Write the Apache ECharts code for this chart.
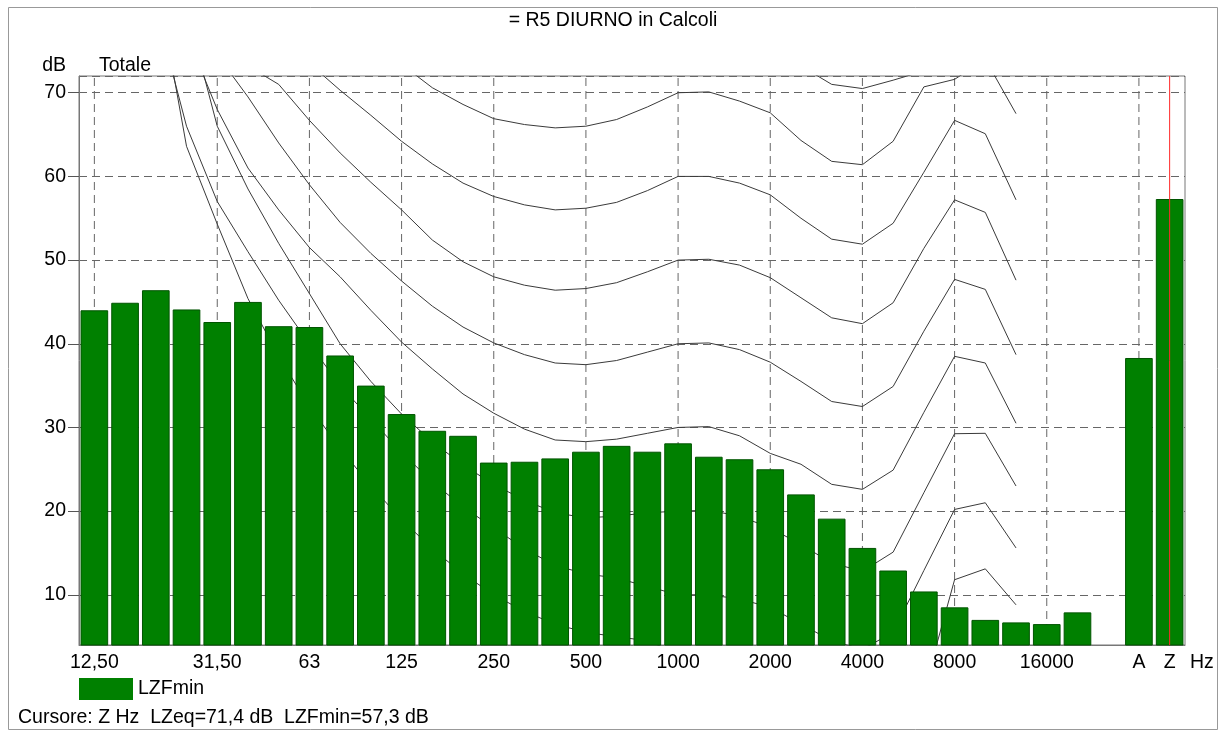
<!DOCTYPE html>
<html><head><meta charset="utf-8">
<script src="https://cdn.jsdelivr.net/npm/echarts@6/dist/echarts.min.js"></script>
<style>html,body{margin:0;padding:0;background:#fff}#c{width:1226px;height:734px}</style>
</head><body><div id="c"></div>
<script>
// 1/3-octave bands (Hz) + gap + totals A and Z
const categories = ['12,50','16','20','25','31,50','40','50','63','80','100','125','160','200','250','315','400','500','630','800','1000','1250','1600','2000','2500','3150','4000','5000','6300','8000','10000','12500','16000','20000',' ','A','Z'];
// LZFmin values (dB)
const lzfmin = [44.0,44.9,46.4,44.1,42.6,45.0,42.1,42.0,38.6,35.0,31.6,29.6,29.0,25.8,25.9,26.3,27.1,27.8,27.1,28.1,26.5,26.2,25.0,22.0,19.1,15.6,12.9,10.4,8.5,7.0,6.7,6.5,7.9,null,38.3,57.3];
// indices of shown tick labels and of vertical grid lines
const labelIdx = [0,4,7,10,13,16,19,22,25,28,31,34,35];
const vGridIdx = [0,4,7,10,13,16,19,22,25,28,31,34];
const cursorIdx = 35;
// curves (dB) from 12.5 Hz to 12500 Hz
const c0  = [null,null,84,63.6,54.3,45.4,38.5,32.5,27.5,23,19,15.5,12.5,10,8,6.5,5.5,5,4.5,3,3,2.5,1.5,-0.5,-2.5,-3.5,-3,-1.5,11.8,13.1,8.8];
const c10 = [null,null,80,66,57,51,45.2,40,35,31,27,23.5,20.5,18,15.5,13.5,12.5,12,11,10,10,9.5,8.5,6.5,4.5,3.5,5.5,12.9,20.2,21.0,15.6];
const c20 = [null,null,null,80,66,58.5,52,46,40,35.5,31.6,28.3,25.5,23.2,21.3,19.8,19.2,19.4,19.8,20.0,20.1,19.4,18.0,16.0,13.8,12.8,15.1,22.2,29.25,29.3,23.0];
const c30 = [null,null,null,77,68,61,56,51.5,48.0,44.0,40.2,37.0,34.0,31.7,29.8,28.5,28.3,28.6,29.3,30.0,30.1,29.0,26.9,25.6,23.2,22.6,24.9,31.8,38.5,37.7,30.5];
const c40 = [null,null,null,null,74.5,69.5,64.0,59.0,54.5,50.8,47.5,44.5,42.0,40.1,38.7,37.7,37.5,38.0,39.0,40.0,40.1,39.3,37.8,35.5,33.1,32.5,34.9,41.5,47.7,46.5,38.7];
const c50 = [null,null,null,null,null,73.2,71.0,66.7,62.8,59.3,56.0,52.4,49.8,48.0,47.0,46.4,46.6,47.3,48.6,50.0,50.1,49.4,47.9,45.5,43.1,42.4,44.9,51.4,57.2,55.7,47.6];
const c60 = [null,null,null,null,null,null,null,73.5,70.3,67.3,64.2,61.5,59.2,57.6,56.6,56.0,56.2,56.9,58.3,60.0,60.0,59.2,57.8,55.0,52.5,51.9,54.4,60.5,66.7,65.1,57.2];
const c70 = [null,null,null,null,null,null,null,null,null,77,73.4,70.6,68.6,66.9,66.2,65.8,66.0,66.8,68.3,70.0,70.1,69.0,67.6,64.3,61.8,61.4,64.2,70.7,71.6,74.0,67.5];
const c80 = [null,null,null,null,null,null,null,null,null,null,null,null,null,null,null,null,null,null,null,null,null,null,78,73.2,71.0,70.5,71.5,72.6,null,null,null];
const curves = [c0,c10,c20,c30,c40,c50,c60,c70,c80];

const FONT = 'Liberation Sans, Arial, sans-serif';
const FS = 19.5;
const YMIN = 4, YMAX = 72;
const chart = echarts.init(document.getElementById('c'), null, {renderer:'canvas'});

// convert a curve to [index, value] pairs for the numeric x axis
function toXY(arr){ const out=[]; arr.forEach((v,i)=>out.push([i, v])); return out; }

const curveSeries = curves.map((d,k) => ({
  type:'line', name:'curve'+k, data: toXY(d), xAxisIndex:1, z:1, silent:true,
  symbol:'none', showSymbol:false, smooth:false, connectNulls:false,
  lineStyle:{color:'#3a3a3a', width:1},
  clip:true
}));

const option = {
  animation:false,
  backgroundColor:'#ffffff',
  textStyle:{fontFamily:FONT},
  title:[
    {text:'= R5 DIURNO in Calcoli', left:'center', top:6, textStyle:{fontFamily:FONT,fontSize:FS,fontWeight:'normal',color:'#000'}},
    {text:'Totale', left:94, top:51, textStyle:{fontFamily:FONT,fontSize:FS,fontWeight:'normal',color:'#000'}},
    {text:'Cursore: Z Hz  LZeq=71,4 dB  LZFmin=57,3 dB', left:13, top:703, textStyle:{fontFamily:FONT,fontSize:FS,fontWeight:'normal',color:'#000'}}
  ],
  legend:{
    data:['LZFmin'], left:79, top:678, padding:0, itemWidth:54, itemHeight:22, itemGap:10,
    icon:'rect', itemStyle:{borderWidth:0}, textStyle:{fontFamily:FONT,fontSize:FS,color:'#000'}
  },
  grid:{left:79, right:41, top:76, bottom:89, show:true, borderColor:'#777', borderWidth:1, containLabel:false},
  xAxis:[{
    type:'category', data:categories, boundaryGap:true,
    name:'Hz', nameLocation:'end', nameGap:5,
    nameTextStyle:{fontFamily:FONT,fontSize:FS,color:'#000',verticalAlign:'top',padding:[8,0,0,0]},
    axisLine:{onZero:false, lineStyle:{color:'#777'}},
    axisTick:{show:false},
    axisLabel:{interval:(i)=>labelIdx.indexOf(i)>=0, fontFamily:FONT, fontSize:FS, color:'#000', margin:8},
    splitLine:{show:false}
  },{
    type:'value', min:-0.5, max:categories.length-0.5, show:false,
    axisLine:{onZero:false}, splitLine:{show:false}
  }],
  yAxis:{
    type:'value', min:YMIN, max:YMAX, splitNumber:7,
    name:'dB', nameLocation:'end', nameGap:0,
    nameTextStyle:{fontFamily:FONT,fontSize:FS,color:'#000',align:'right',padding:[0,13,0,0]},
    axisLine:{show:true, onZero:false, lineStyle:{color:'#777'}},
    axisTick:{show:true,length:11,lineStyle:{color:'#555'}},
    axisLabel:{fontFamily:FONT,fontSize:FS,color:'#000',margin:13,showMinLabel:false,showMaxLabel:false},
    splitLine:{show:true,lineStyle:{color:'#666',type:[8,5],width:1}}
  },
  series:[
    {type:'bar', name:'LZFmin', data:lzfmin, z:10, barWidth:'90%',
     itemStyle:{color:'#008000', borderColor:'#005400', borderWidth:1}
    },
    ...curveSeries,
    // vertical dashed grid lines at labelled bands
    ...vGridIdx.map(i => ({
      type:'line', name:'vgrid'+i, xAxisIndex:1, data:[[i,YMIN],[i,YMAX]], z:0, silent:true,
      symbol:'none', lineStyle:{color:'#666', type:[8,5], width:1}
    })),
    // red cursor line at Z
    {type:'line', name:'cursor', xAxisIndex:1, data:[[cursorIdx,YMIN],[cursorIdx,YMAX]], z:30, silent:true,
     symbol:'none', lineStyle:{color:'#ff2a2a', type:'solid', width:1}}
  ],
  graphic:[
    {type:'rect', shape:{x:8.5,y:7.5,width:1209,height:722}, style:{fill:null, stroke:'#999', lineWidth:1}, silent:true, z:-1}
  ]
};
chart.setOption(option);
</script></body></html>
